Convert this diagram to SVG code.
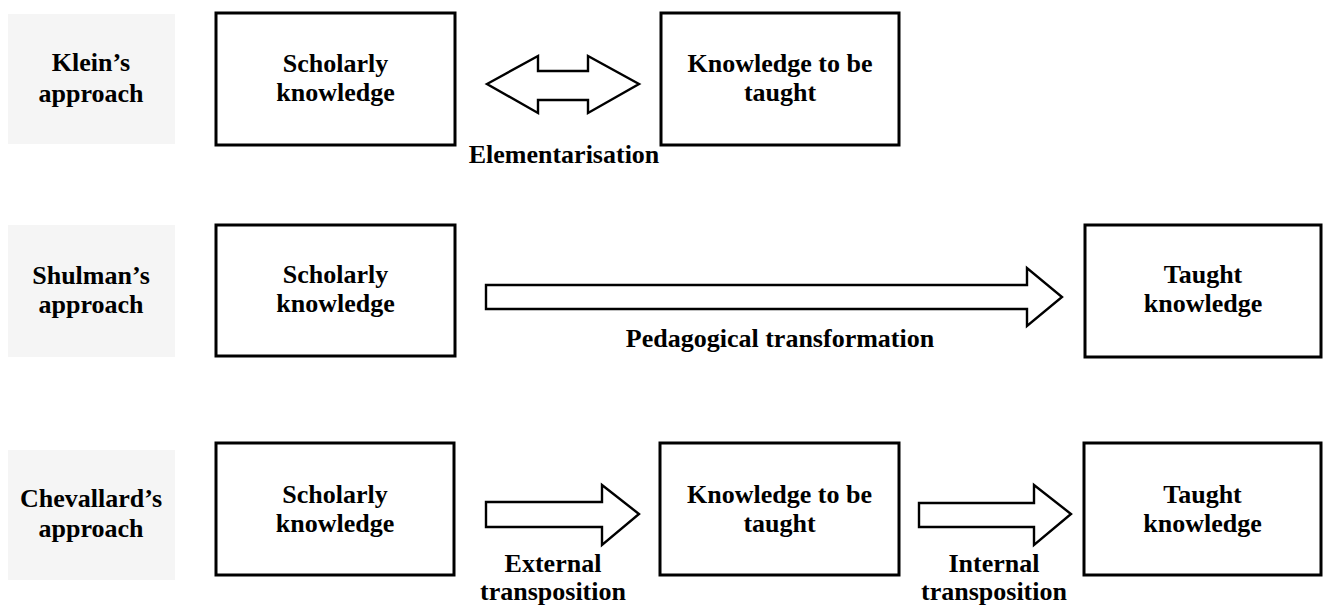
<svg xmlns="http://www.w3.org/2000/svg" width="1323" height="607" viewBox="0 0 1323 607">
<style>
.lbl{fill:#f5f5f5;stroke:none}
.box{fill:#fff;stroke:#000;stroke-width:3}
.arr{fill:#fff;stroke:#000;stroke-width:2.4;stroke-linejoin:miter}
text{font-family:"Liberation Serif","Times New Roman",serif;font-weight:bold;font-size:26px;fill:#000;text-anchor:middle}
</style>
<rect width="1323" height="607" fill="#fff"/>
<g id="klein-label"><rect class="lbl" x="8" y="14" width="167" height="130"/><text x="91" y="71">Klein’s</text><text x="91" y="102">approach</text></g>
<g id="klein-scholarly"><rect class="box" x="216" y="13" width="239" height="132"/><text x="335.5" y="72">Scholarly</text><text x="335.5" y="101">knowledge</text></g>
<g id="klein-tobetaught"><rect class="box" x="661" y="13" width="238" height="132"/><text x="780" y="72">Knowledge to be</text><text x="780" y="101">taught</text></g>
<g id="shulman-label"><rect class="lbl" x="8" y="225" width="167" height="132"/><text x="91" y="284">Shulman’s</text><text x="91" y="313">approach</text></g>
<g id="shulman-scholarly"><rect class="box" x="216" y="225" width="239" height="131"/><text x="335.5" y="283">Scholarly</text><text x="335.5" y="312">knowledge</text></g>
<g id="shulman-taught"><rect class="box" x="1085" y="225" width="236" height="132"/><text x="1203" y="283">Taught</text><text x="1203" y="312">knowledge</text></g>
<g id="chevallard-label"><rect class="lbl" x="8" y="450" width="167" height="130"/><text x="91" y="507">Chevallard’s</text><text x="91" y="537">approach</text></g>
<g id="chevallard-scholarly"><rect class="box" x="216" y="443" width="238" height="132"/><text x="335" y="503">Scholarly</text><text x="335" y="532">knowledge</text></g>
<g id="chevallard-tobetaught"><rect class="box" x="660" y="443" width="239" height="132"/><text x="779.5" y="503">Knowledge to be</text><text x="779.5" y="532">taught</text></g>
<g id="chevallard-taught"><rect class="box" x="1084" y="443" width="237" height="132"/><text x="1202.5" y="503">Taught</text><text x="1202.5" y="532">knowledge</text></g>
<g id="connectors">
<polygon class="arr" points="487,84 538,56 538,71 588,71 588,56 639,84 588,113 588,100 538,100 538,113"/>
<text x="564" y="163">Elementarisation</text>
<polygon class="arr" points="486,285 1027,285 1027,268 1062,297 1027,326 1027,309 486,309"/>
<text x="780" y="347">Pedagogical transformation</text>
<polygon class="arr" points="486,502 602,502 602,485 639,514 602,545 602,527 486,527"/>
<text x="553" y="572">External</text><text x="553" y="600">transposition</text>
<polygon class="arr" points="919,503 1034,503 1034,485 1071,514 1034,545 1034,527 919,527"/>
<text x="994" y="572">Internal</text><text x="994" y="600">transposition</text>
</g>
</svg>
